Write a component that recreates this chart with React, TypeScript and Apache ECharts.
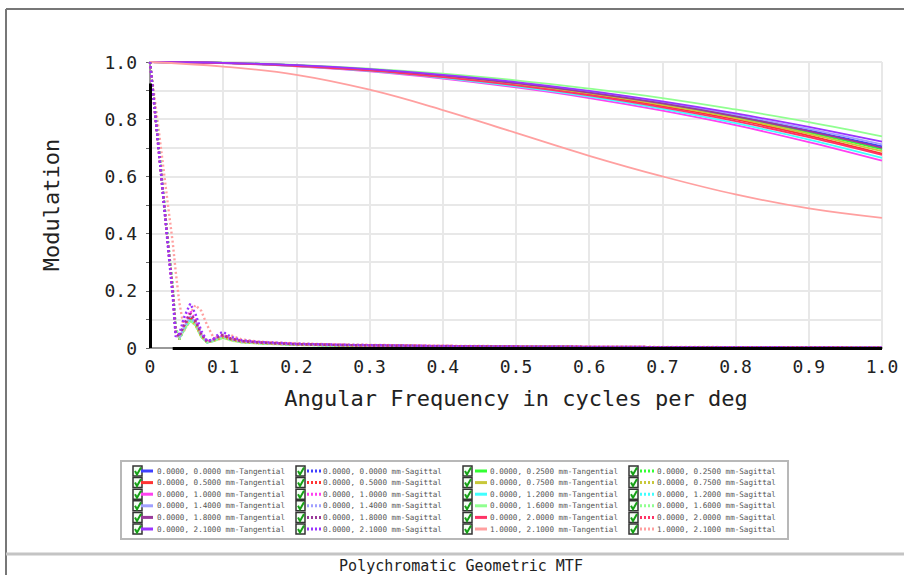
import React, { useEffect, useRef } from "react";
import * as echarts from "echarts";

// ---------- data ----------
const TX = [0, 0.1, 0.2, 0.3, 0.4, 0.5, 0.6, 0.7, 0.8, 0.9, 1.0];
const SX = [0, 0.012, 0.025, 0.031, 0.035, 0.04, 0.047, 0.055, 0.062, 0.07, 0.078, 0.086, 0.094, 0.1, 0.11, 0.125, 0.15, 0.2, 0.25, 0.3, 0.4, 0.5, 0.6, 0.7, 0.8, 0.9, 1.0];

const FIELD_LABELS = [
  "0.0000, 0.0000", "0.0000, 0.2500", "0.0000, 0.5000", "0.0000, 0.7500",
  "0.0000, 1.0000", "0.0000, 1.2000", "0.0000, 1.4000", "0.0000, 1.6000",
  "0.0000, 1.8000", "0.0000, 2.0000", "0.0000, 2.1000", "1.0000, 2.1000",
];
const FIELD_COLORS = [
  "#4040ff", "#33ff33", "#ff3333", "#c8c83a",
  "#ff40f0", "#40ffff", "#a0a0ff", "#90ff90",
  "#9a3a9a", "#ff3366", "#9933ff", "#ffa0a0",
];

// Tangential (solid) values at TX
const T_00 = [1.0, 0.997, 0.988, 0.973, 0.953, 0.927, 0.895, 0.857, 0.812, 0.761, 0.705];
const T_025 = [1.0, 0.997, 0.988, 0.973, 0.952, 0.925, 0.892, 0.853, 0.807, 0.754, 0.695];
const T_05 = [1.0, 0.997, 0.987, 0.971, 0.949, 0.921, 0.887, 0.846, 0.799, 0.743, 0.68];
const T_075 = [1.0, 0.997, 0.987, 0.972, 0.95, 0.923, 0.89, 0.85, 0.804, 0.749, 0.688];
const T_10 = [1.0, 0.996, 0.985, 0.967, 0.942, 0.911, 0.874, 0.83, 0.779, 0.72, 0.655];
const T_12 = [1.0, 0.996, 0.986, 0.969, 0.945, 0.915, 0.879, 0.836, 0.786, 0.729, 0.665];
const T_14 = [1.0, 0.997, 0.988, 0.974, 0.954, 0.928, 0.897, 0.859, 0.815, 0.766, 0.712];
const T_16 = [1.0, 0.998, 0.99, 0.977, 0.959, 0.936, 0.907, 0.874, 0.834, 0.79, 0.74];
const T_18 = [1.0, 0.997, 0.988, 0.973, 0.952, 0.926, 0.893, 0.855, 0.81, 0.758, 0.7];
const T_20 = [1.0, 0.996, 0.986, 0.97, 0.947, 0.918, 0.883, 0.841, 0.793, 0.737, 0.675];
const T_21 = [1.0, 0.997, 0.989, 0.975, 0.955, 0.93, 0.899, 0.862, 0.82, 0.773, 0.722];
const T_1_21 = [1.0, 0.984, 0.955, 0.903, 0.832, 0.752, 0.672, 0.6, 0.537, 0.488, 0.455];

// Sagittal (dotted) values at SX
const S_00 = [1, 0.7, 0.36, 0.21, 0.07, 0.03, 0.07, 0.105, 0.09, 0.045, 0.02, 0.025, 0.035, 0.04, 0.03, 0.022, 0.018, 0.012, 0.01, 0.008, 0.006, 0.004, 0.003, 0.003, 0.002, 0.002, 0.001];
const S_025 = [1, 0.7, 0.36, 0.21, 0.07, 0.03, 0.07, 0.1, 0.085, 0.04, 0.02, 0.025, 0.033, 0.038, 0.03, 0.022, 0.017, 0.012, 0.01, 0.008, 0.006, 0.004, 0.003, 0.003, 0.002, 0.002, 0.001];
const S_05 = [1, 0.7, 0.35, 0.2, 0.06, 0.03, 0.075, 0.11, 0.09, 0.045, 0.022, 0.028, 0.037, 0.04, 0.03, 0.023, 0.018, 0.013, 0.01, 0.008, 0.006, 0.004, 0.003, 0.003, 0.002, 0.002, 0.001];
const S_075 = [1, 0.7, 0.36, 0.21, 0.07, 0.035, 0.065, 0.095, 0.08, 0.04, 0.02, 0.024, 0.032, 0.036, 0.028, 0.02, 0.016, 0.011, 0.009, 0.007, 0.005, 0.004, 0.003, 0.002, 0.002, 0.001, 0.001];
const S_10 = [1, 0.69, 0.35, 0.19, 0.05, 0.04, 0.09, 0.13, 0.1, 0.05, 0.022, 0.03, 0.04, 0.045, 0.033, 0.024, 0.019, 0.013, 0.011, 0.009, 0.006, 0.005, 0.004, 0.003, 0.002, 0.002, 0.001];
const S_12 = [1, 0.7, 0.36, 0.21, 0.07, 0.035, 0.07, 0.1, 0.085, 0.04, 0.02, 0.026, 0.034, 0.038, 0.029, 0.021, 0.017, 0.012, 0.009, 0.007, 0.005, 0.004, 0.003, 0.002, 0.002, 0.001, 0.001];
const S_14 = [1, 0.7, 0.35, 0.2, 0.06, 0.035, 0.075, 0.11, 0.09, 0.045, 0.021, 0.027, 0.036, 0.04, 0.03, 0.022, 0.018, 0.012, 0.01, 0.008, 0.006, 0.004, 0.003, 0.002, 0.002, 0.001, 0.001];
const S_16 = [1, 0.7, 0.36, 0.21, 0.07, 0.03, 0.065, 0.095, 0.08, 0.04, 0.02, 0.024, 0.031, 0.035, 0.027, 0.02, 0.016, 0.011, 0.009, 0.007, 0.005, 0.004, 0.003, 0.002, 0.002, 0.001, 0.001];
const S_18 = [1, 0.69, 0.35, 0.19, 0.055, 0.04, 0.085, 0.12, 0.095, 0.05, 0.022, 0.028, 0.04, 0.045, 0.032, 0.024, 0.019, 0.013, 0.011, 0.009, 0.006, 0.005, 0.004, 0.003, 0.002, 0.002, 0.001];
const S_20 = [1, 0.69, 0.35, 0.2, 0.055, 0.04, 0.08, 0.12, 0.095, 0.048, 0.022, 0.03, 0.042, 0.046, 0.034, 0.025, 0.02, 0.014, 0.011, 0.009, 0.007, 0.005, 0.004, 0.003, 0.002, 0.002, 0.001];
const S_21 = [1, 0.69, 0.34, 0.18, 0.04, 0.05, 0.11, 0.155, 0.12, 0.06, 0.025, 0.03, 0.05, 0.056, 0.04, 0.027, 0.021, 0.015, 0.012, 0.01, 0.007, 0.005, 0.004, 0.003, 0.003, 0.002, 0.002];
const S_1_21 = [1, 0.76, 0.49, 0.37, 0.27, 0.16, 0.06, 0.12, 0.15, 0.13, 0.08, 0.04, 0.03, 0.035, 0.045, 0.03, 0.022, 0.016, 0.013, 0.011, 0.008, 0.006, 0.005, 0.004, 0.003, 0.003, 0.002];

const TANGENTIAL = [T_00, T_025, T_05, T_075, T_10, T_12, T_14, T_16, T_18, T_20, T_21, T_1_21];
const SAGITTAL = [S_00, S_025, S_05, S_075, S_10, S_12, S_14, S_16, S_18, S_20, S_21, S_1_21];

// legend layout: indices into fields per legend column
const LEGEND_LEFT_FIELDS = [0, 2, 4, 6, 8, 10];
const LEGEND_RIGHT_FIELDS = [1, 3, 5, 7, 9, 11];

// draw order of sagittal series (last on top)
const SAG_ORDER = [11, 0, 1, 2, 3, 5, 6, 7, 4, 9, 8, 10];

const X_TICKS = [0, 0.1, 0.2, 0.3, 0.4, 0.5, 0.6, 0.7, 0.8, 0.9, 1.0];
const BLACK_X_START = 0.031;
const BLACK_Y_END = 0.925;

const TITLE = "Polychromatic Geometric MTF";
const X_NAME = "Angular Frequency in cycles per deg";
const Y_NAME = "Modulation";

const MONO = '"DejaVu Sans Mono", "Liberation Mono", monospace';

function fmt(v: number): string {
  if (Math.abs(v) < 1e-9) return "0";
  return v.toFixed(1);
}

function buildLegend(): any[] {
  const els: any[] = [];
  els.push({
    type: "rect",
    shape: { x: 121, y: 461, width: 667, height: 78 },
    style: { fill: "none", stroke: "#b8b8b8", lineWidth: 2 },
  });
  const cols = [
    { fields: LEGEND_LEFT_FIELDS, sag: false, box: 133, l1: 141, l2: 153, tx: 157 },
    { fields: LEGEND_LEFT_FIELDS, sag: true, box: 296, l1: 307, l2: 321, tx: 323 },
    { fields: LEGEND_RIGHT_FIELDS, sag: false, box: 463, l1: 475, l2: 487, tx: 490 },
    { fields: LEGEND_RIGHT_FIELDS, sag: true, box: 629, l1: 640, l2: 654, tx: 657 },
  ];
  cols.forEach((c) => {
    c.fields.forEach((fi, r) => {
      const y = 471 + r * 11.6;
      els.push({
        type: "rect",
        shape: { x: c.box, y: y - 5, width: 9, height: 10 },
        style: { fill: "#f4fff4", stroke: "#333", lineWidth: 1.5 },
      });
      els.push({
        type: "polyline",
        shape: { points: [[c.box + 2, y], [c.box + 4, y + 3.5], [c.box + 8, y - 3.5]] },
        style: { fill: "none", stroke: "#16a016", lineWidth: 2 },
      });
      els.push({
        type: "line",
        shape: { x1: c.l1, y1: y, x2: c.l2, y2: y },
        style: {
          stroke: FIELD_COLORS[fi],
          lineWidth: 3,
          lineDash: c.sag ? [2, 2] : null,
        },
      });
      els.push({
        type: "text",
        style: {
          text: FIELD_LABELS[fi] + (c.sag ? " mm-Sagittal" : " mm-Tangential"),
          x: c.tx,
          y: y,
          fill: "#555",
          font: `7.6px ${MONO}`,
          textAlign: "left",
          textVerticalAlign: "middle",
        },
      });
    });
  });
  return els;
}

export default function App() {
  const ref = useRef<HTMLDivElement>(null);
  useEffect(() => {
    document.body.style.margin = "0";
    const chart = echarts.init(ref.current!, null, { renderer: "svg" });

    const series: any[] = [];
    TANGENTIAL.forEach((vals, i) => {
      series.push({
        type: "line",
        name: FIELD_LABELS[i] + " mm-Tangential",
        data: TX.map((x, k) => [x, vals[k]]),
        smooth: 0.4,
        showSymbol: false,
        symbol: "none",
        lineStyle: { color: FIELD_COLORS[i], width: 1.8 },
        z: 2,
      });
    });
    SAG_ORDER.forEach((i) => {
      series.push({
        type: "line",
        name: FIELD_LABELS[i] + " mm-Sagittal",
        data: SX.map((x, k) => [x, SAGITTAL[i][k]]),
        showSymbol: false,
        symbol: "none",
        lineStyle: { color: FIELD_COLORS[i], width: 2.4, type: [2, 2.5] },
        z: 3,
      });
    });
    series.push({
      type: "line",
      name: "axes-overlay",
      data: [],
      showSymbol: false,
      z: 4,
      markLine: {
        silent: true,
        symbol: ["none", "none"],
        label: { show: false },
        lineStyle: { color: "#000", width: 3, type: "solid" },
        data: [
          [{ coord: [BLACK_X_START, 0] }, { coord: [1, 0] }],
          [{ coord: [0, 0] }, { coord: [0, BLACK_Y_END] }],
        ],
      },
    });

    const graphic: any[] = [
      {
        type: "line",
        shape: { x1: 6, y1: 9, x2: 904, y2: 9 },
        style: { stroke: "#777", lineWidth: 2 },
      },
      {
        type: "line",
        shape: { x1: 6, y1: 9, x2: 6, y2: 575 },
        style: { stroke: "#777", lineWidth: 2 },
      },
      {
        type: "line",
        shape: { x1: 6, y1: 554, x2: 904, y2: 554 },
        style: { stroke: "#c4c4c4", lineWidth: 3 },
      },
      {
        type: "text",
        style: {
          text: TITLE,
          x: 461,
          y: 566,
          fill: "#222",
          font: `15px ${MONO}`,
          textAlign: "center",
          textVerticalAlign: "middle",
        },
      },
      ...buildLegend(),
    ];

    chart.setOption({
      animation: false,
      backgroundColor: "#fff",
      grid: { left: 150, right: 22, top: 62, bottom: 227 },
      xAxis: {
        type: "value",
        min: 0,
        max: 1,
        interval: 0.1,
        name: X_NAME,
        nameLocation: "middle",
        nameGap: 39,
        nameTextStyle: { fontFamily: MONO, fontSize: 22, color: "#222" },
        axisLine: { show: true, onZero: false, lineStyle: { color: "#999", width: 2 } },
        axisTick: { show: false },
        axisLabel: {
          formatter: (v: number) => (X_TICKS.some((t) => Math.abs(t - v) < 1e-6) ? fmt(v) : ""),
          fontFamily: MONO,
          fontSize: 18,
          color: "#222",
          margin: 9,
        },
        splitLine: { show: true, lineStyle: { color: "#e8e8e8", width: 2 } },
      },
      yAxis: {
        type: "value",
        min: 0,
        max: 1,
        interval: 0.1,
        name: Y_NAME,
        nameLocation: "middle",
        nameGap: 88,
        nameRotate: 90,
        nameTextStyle: { fontFamily: MONO, fontSize: 22, color: "#222" },
        axisLine: { show: true, onZero: false, lineStyle: { color: "#999", width: 2 } },
        axisTick: { show: true, length: 4, lineStyle: { color: "#666", width: 1 } },
        axisLabel: {
          formatter: (v: number) => (Math.round(v * 10) % 2 === 0 ? fmt(v) : ""),
          fontFamily: MONO,
          fontSize: 18,
          color: "#222",
          margin: 13,
        },
        splitLine: { show: true, lineStyle: { color: "#e8e8e8", width: 2 } },
      },
      series,
      graphic,
    });
    return () => chart.dispose();
  }, []);
  return <div ref={ref} style={{ width: 904, height: 575, position: "absolute", left: 0, top: 0 }} />;
}
